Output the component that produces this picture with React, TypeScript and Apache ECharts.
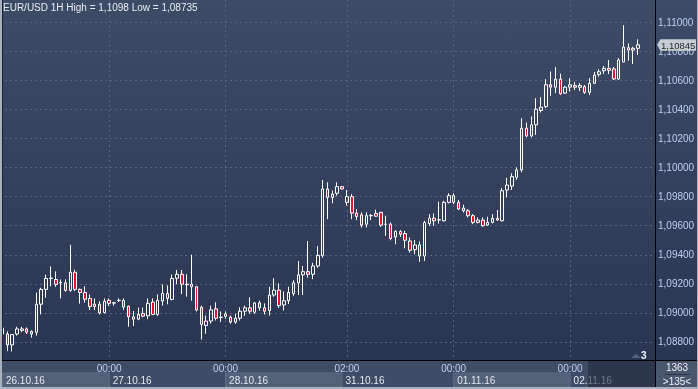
import React, { useEffect, useRef } from 'react';
import * as echarts from 'echarts';

// Trading sessions shown (date, first hour, last hour)
const days = [
  { date: '26.10.16', first: 2, last: 23 },
  { date: '27.10.16', first: 0, last: 23 },
  { date: '28.10.16', first: 0, last: 23 },
  { date: '31.10.16', first: 1, last: 23 },
  { date: '01.11.16', first: 0, last: 23 },
  { date: '02.11.16', first: 0, last: 14 },
];
const gridTimes = ['27.10.16 00:00', '28.10.16 00:00', '31.10.16 02:00', '01.11.16 00:00', '02.11.16 00:00'];
const emptySlots = ['+1', '+2', '+3'];
const yTickValues = [1.088, 1.09, 1.092, 1.094, 1.096, 1.098, 1.1, 1.102, 1.104, 1.106, 1.108, 1.11];

const opens = [
  1.08896, 1.08855, 1.0878, 1.08855, 1.0888, 1.0889, 1.08873, 1.08867, 1.0906, 1.09162,
  1.09237, 1.0923, 1.09207, 1.09207, 1.09155, 1.0928, 1.09162, 1.0914, 1.091, 1.0906,
  1.0906, 1.09003, 1.09087, 1.0907, 1.09085, 1.09087, 1.09046, 1.08973, 1.08957, 1.08996,
  1.0898, 1.09075, 1.0899, 1.09082, 1.09134, 1.09093, 1.09239, 1.09266, 1.09198, 1.09198,
  1.0918, 1.09039, 1.08914, 1.08944, 1.09028, 1.08971, 1.08994, 1.08971, 1.08937, 1.08964,
  1.09012, 1.09035, 1.09005, 1.09069, 1.09035, 1.09016, 1.09123, 1.09157, 1.09055, 1.09084,
  1.09134, 1.09207, 1.09262, 1.09284, 1.09266, 1.09323, 1.09396, 1.09853, 1.09795, 1.09823,
  1.09869, 1.09761, 1.098, 1.09687, 1.09675, 1.09611, 1.09669, 1.09685, 1.09692, 1.09611,
  1.09611, 1.09523, 1.0956, 1.09546, 1.09495, 1.09436, 1.09468, 1.09392, 1.09615, 1.09652,
  1.0964, 1.09634, 1.09761, 1.09807, 1.09761, 1.09722, 1.09703, 1.09669, 1.09623, 1.09639,
  1.09605, 1.09623, 1.0965, 1.09634, 1.09846, 1.09873, 1.09933, 1.09984, 1.10271, 1.10218,
  1.10294, 1.10393, 1.1042, 1.1057, 1.10554, 1.10609, 1.10513, 1.10554, 1.10564, 1.10553,
  1.10557, 1.10518, 1.1058, 1.10642, 1.10667, 1.10683, 1.10679, 1.1061, 1.10727, 1.10825,
  1.10809, 1.10821,
];
const highs = [
  1.0891, 1.08873, 1.08855, 1.08905, 1.08905, 1.089, 1.0888, 1.0914, 1.09173, 1.09264,
  1.0932, 1.09286, 1.0923, 1.0923, 1.09468, 1.09298, 1.09168, 1.09184, 1.09128, 1.091,
  1.0908, 1.091, 1.091, 1.09075, 1.091, 1.091, 1.0905, 1.09014, 1.09037, 1.09037,
  1.091, 1.091, 1.09128, 1.09196, 1.0919, 1.09264, 1.09296, 1.09296, 1.09266, 1.094,
  1.09185, 1.0905, 1.08982, 1.0905, 1.09073, 1.0901, 1.0901, 1.08982, 1.08994, 1.09039,
  1.0905, 1.09107, 1.09073, 1.09084, 1.09066, 1.0918, 1.09239, 1.09203, 1.09148, 1.0918,
  1.09225, 1.09357, 1.09323, 1.09495, 1.09345, 1.09461, 1.09915, 1.09899, 1.09842, 1.09899,
  1.09872, 1.09846, 1.09818, 1.09715, 1.09692, 1.09692, 1.0968, 1.0971, 1.09696, 1.09669,
  1.09622, 1.09569, 1.09569, 1.09565, 1.09519, 1.09502, 1.09491, 1.09634, 1.0968, 1.09685,
  1.09765, 1.09772, 1.09823, 1.09823, 1.09777, 1.09745, 1.09715, 1.0968, 1.09657, 1.09657,
  1.09662, 1.0968, 1.09708, 1.0986, 1.0993, 1.09961, 1.10002, 1.1034, 1.1031, 1.10352,
  1.10478, 1.10485, 1.10609, 1.10662, 1.10692, 1.10646, 1.10563, 1.10616, 1.10589, 1.10582,
  1.10569, 1.10617, 1.10658, 1.10677, 1.10699, 1.10741, 1.10692, 1.10754, 1.1098, 1.10855,
  1.10832, 1.10883,
];
const lows = [
  1.0884, 1.08737, 1.08735, 1.08844, 1.08867, 1.08855, 1.0883, 1.08844, 1.0899, 1.09105,
  1.09184, 1.0918, 1.091, 1.09146, 1.09146, 1.0915, 1.09064, 1.09071, 1.0902, 1.0902,
  1.0899, 1.08996, 1.09048, 1.0905, 1.09075, 1.0902, 1.08905, 1.0891, 1.0895, 1.0897,
  1.08957, 1.08985, 1.0898, 1.0905, 1.0906, 1.09087, 1.09198, 1.0913, 1.09112, 1.09084,
  1.0901, 1.08817, 1.08857, 1.08926, 1.08948, 1.08937, 1.0896, 1.08926, 1.08926, 1.08948,
  1.0898, 1.08994, 1.08994, 1.09016, 1.08989, 1.08982, 1.09112, 1.09035, 1.09016, 1.09062,
  1.09118, 1.09123, 1.09123, 1.09243, 1.09232, 1.0931, 1.0938, 1.09645, 1.09754, 1.09807,
  1.0985, 1.09738, 1.09645, 1.09639, 1.09588, 1.09588, 1.09639, 1.09662, 1.09592, 1.0953,
  1.095, 1.09472, 1.09523, 1.09445, 1.09415, 1.09403, 1.09352, 1.09357, 1.09599, 1.09599,
  1.09615, 1.0963, 1.09754, 1.09749, 1.09708, 1.09692, 1.09657, 1.09611, 1.09616, 1.09593,
  1.096, 1.09616, 1.09634, 1.0963, 1.09795, 1.09846, 1.09915, 1.09968, 1.10209, 1.10209,
  1.10225, 1.10379, 1.10409, 1.10494, 1.10513, 1.10501, 1.10508, 1.10524, 1.10534, 1.10527,
  1.10507, 1.105, 1.10575, 1.10626, 1.10644, 1.10644, 1.10603, 1.10603, 1.10725, 1.10736,
  1.10713, 1.10775,
];
const closes = [
  1.08855, 1.0878, 1.08851, 1.0889, 1.0889, 1.08867, 1.08855, 1.0906, 1.09162, 1.09237,
  1.0924, 1.09196, 1.0921, 1.09155, 1.0928, 1.09162, 1.0914, 1.09094, 1.09044, 1.09044,
  1.09, 1.0908, 1.09066, 1.09068, 1.09087, 1.0904, 1.08973, 1.08957, 1.0899, 1.08978,
  1.09066, 1.0899, 1.09087, 1.09134, 1.091, 1.09237, 1.09266, 1.09198, 1.09194, 1.0918,
  1.09021, 1.08921, 1.08944, 1.09021, 1.08964, 1.08969, 1.08976, 1.08937, 1.08964, 1.09012,
  1.09035, 1.09012, 1.09069, 1.09035, 1.09012, 1.09123, 1.09157, 1.0905, 1.09084, 1.09141,
  1.09207, 1.09262, 1.09284, 1.09266, 1.09323, 1.09396, 1.09853, 1.09795, 1.09818, 1.09869,
  1.09853, 1.098, 1.09687, 1.09664, 1.09604, 1.09669, 1.09671, 1.09666, 1.09604, 1.09609,
  1.09512, 1.0956, 1.09542, 1.095, 1.09431, 1.09468, 1.09392, 1.09622, 1.09652, 1.09634,
  1.09641, 1.09761, 1.09807, 1.09761, 1.09715, 1.09703, 1.09669, 1.09623, 1.09639, 1.096,
  1.09623, 1.0965, 1.09639, 1.09841, 1.0988, 1.09938, 1.09984, 1.10271, 1.10218, 1.10294,
  1.10402, 1.10416, 1.1057, 1.10554, 1.10609, 1.10508, 1.10554, 1.1057, 1.10553, 1.10565,
  1.10518, 1.1058, 1.10637, 1.1066, 1.10683, 1.1067, 1.1061, 1.10741, 1.1083, 1.10809,
  1.10821, 1.10845,
];

const FONT = "'Liberation Sans', Arial, sans-serif";
const pad2 = (h: number) => String(h).padStart(2, '0');
const fmt = (v: number) => v.toFixed(5).replace('.', ',');

export default function App() {
  const ref = useRef<HTMLDivElement>(null);
  useEffect(() => {
    if (!ref.current) return;
    const chart = echarts.init(ref.current, undefined, { renderer: 'svg' });

    const categories: string[] = [];
    days.forEach((d) => {
      for (let h = d.first; h <= d.last; h++) categories.push(`${d.date} ${pad2(h)}:00`);
    });
    const xCats = [...categories, ...emptySlots];
    const candles = opens.map((o, i) => [o, closes[i], lows[i], highs[i]]);
    const lastClose = closes[closes.length - 1];
    const isGrid = (_i: number, v: string) => gridTimes.includes(v);

    const dayAreas = days.map((d, i) => {
      const start = `${d.date} ${pad2(d.first)}:00`;
      const end = i < days.length - 1 ? `${days[i + 1].date} ${pad2(days[i + 1].first)}:00` : xCats[xCats.length - 1];
      const light = i % 2 === 0;
      return [
        {
          name: d.date,
          xAxis: start,
          yAxis: 0.07,
          itemStyle: {
            color: light ? '#526078' : 'rgba(0,0,0,0)',
            borderColor: light ? '#5f6c84' : 'rgba(0,0,0,0)',
            borderWidth: 1,
          },
        },
        { xAxis: end, yAxis: 0.57 },
      ];
    });

    const yMin = 1.086761;
    const yMax = 1.111535;

    chart.setOption({
      animation: false,
      backgroundColor: 'transparent',
      title: {
        text: 'EUR/USD 1H High = 1,1098 Low = 1,08735',
        left: 3,
        top: 2,
        padding: 0,
        textStyle: { color: '#e8edf5', fontSize: 10, fontWeight: 'normal', fontFamily: FONT },
      },
      grid: [
        { left: 0, right: 43, top: 0, height: 360 },
        { left: 0, right: 43, top: 361, height: 28 },
      ],
      xAxis: [
        {
          type: 'category',
          gridIndex: 0,
          data: xCats,
          boundaryGap: true,
          axisLine: { show: false },
          axisTick: { show: false },
          axisLabel: {
            interval: isGrid,
            formatter: (v: string) => v.split(' ')[1],
            color: '#bcd0ee',
            fontSize: 10,
            fontFamily: FONT,
            margin: 3,
          },
          splitLine: {
            show: true,
            interval: isGrid,
            alignWithLabel: true,
            lineStyle: { color: '#56647f', type: [2, 3], width: 1 },
          },
        },
        {
          type: 'category',
          gridIndex: 1,
          data: xCats,
          boundaryGap: true,
          show: false,
        },
      ],
      yAxis: [
        {
          type: 'value',
          gridIndex: 0,
          position: 'right',
          min: yMin,
          max: yMax,
          splitNumber: 12,
          scale: true,
          axisLine: { show: false },
          axisTick: { show: false },
          axisLabel: {
            showMinLabel: false,
            showMaxLabel: false,
            margin: 3,
            color: '#bcd0ee',
            fontSize: 10,
            fontFamily: FONT,
            formatter: (v: number) => (yTickValues.some((t) => Math.abs(t - v) < 1e-7) ? fmt(v) : ''),
          },
          splitLine: {
            show: true,
            showMinLine: false,
            showMaxLine: false,
            lineStyle: { color: '#56647f', type: [2, 3], width: 1 },
          },
        },
        { type: 'value', gridIndex: 1, min: 0, max: 1, show: false },
      ],
      series: [
        {
          type: 'candlestick',
          xAxisIndex: 0,
          yAxisIndex: 0,
          data: candles,
          barWidth: 3,
          itemStyle: {
            color: 'rgba(0,0,0,0)',
            color0: '#e8112d',
            borderColor: '#ffffff',
            borderColor0: '#ffffff',
            borderColorDoji: '#ffffff',
            borderWidth: 1,
          },
        },
        {
          type: 'line',
          xAxisIndex: 1,
          yAxisIndex: 1,
          data: [],
          silent: true,
          markArea: {
            silent: true,
            label: {
              show: true,
              position: 'insideLeft',
              distance: 4,
              color: '#e3e8f1',
              fontSize: 10,
              fontFamily: FONT,
            },
            data: dayAreas,
          },
        },
      ],
    });

    const py = chart.convertToPixel({ yAxisIndex: 0 }, lastClose) as number;

    chart.setOption({
      graphic: [
        {
          type: 'rect',
          z: -20,
          silent: true,
          shape: { x: 0, y: 0, width: 698, height: 389 },
          style: {
            fill: new echarts.graphic.LinearGradient(0, 0, 0, 1, [
              { offset: 0, color: '#3e4b67' },
              { offset: 1, color: '#283350' },
            ]),
          },
        },
        { type: 'rect', z: -19, silent: true, shape: { x: 0, y: 361, width: 655, height: 28 }, style: { fill: '#404c65' } },
        { type: 'rect', z: -19, silent: true, shape: { x: 656, y: 361, width: 42, height: 28 }, style: { fill: '#4a566e' } },
        { type: 'rect', z: 30, silent: true, shape: { x: 588, y: 361, width: 67, height: 27 }, style: { fill: 'rgba(32,40,60,0.6)' } },
        { type: 'line', z: 40, silent: true, shape: { x1: 0, y1: 360.5, x2: 698, y2: 360.5 }, style: { stroke: '#000000', lineWidth: 1 } },
        { type: 'line', z: 40, silent: true, shape: { x1: 655.5, y1: 0, x2: 655.5, y2: 389 }, style: { stroke: '#000000', lineWidth: 1 } },
        { type: 'line', z: 40, silent: true, shape: { x1: 2.5, y1: 0, x2: 2.5, y2: 360 }, style: { stroke: '#1b2234', lineWidth: 1 } },
        { type: 'rect', z: 50, silent: true, shape: { x: 0, y: 0, width: 2, height: 389 }, style: { fill: '#a9b1be' } },
        { type: 'rect', z: 50, silent: true, shape: { x: 0, y: 387, width: 698, height: 2 }, style: { fill: '#a9b1be' } },
        { type: 'rect', z: 50, silent: true, shape: { x: 697, y: 0, width: 1, height: 389 }, style: { fill: '#a9b1be' } },
        { type: 'polygon', z: 40, silent: true, shape: { points: [[631, 358], [636, 354], [641, 358]] }, style: { fill: '#56627a' } },
        { type: 'text', z: 40, silent: true, x: 641, y: 355, style: { text: '3', fill: '#f0f4fa', font: `bold 10px ${FONT}`, verticalAlign: 'middle' } },
        { type: 'text', z: 40, silent: true, x: 677, y: 367, style: { text: '1363', fill: '#eef2f8', font: `10px ${FONT}`, align: 'center', verticalAlign: 'middle' } },
        { type: 'line', z: 40, silent: true, shape: { x1: 665, y1: 374.5, x2: 690, y2: 374.5 }, style: { stroke: '#2e374b', lineWidth: 1 } },
        { type: 'text', z: 40, silent: true, x: 677, y: 381, style: { text: '>135<', fill: '#eef2f8', font: `10px ${FONT}`, align: 'center', verticalAlign: 'middle' } },
        {
          type: 'polygon',
          z: 45,
          silent: true,
          shape: { points: [[657, py], [660.5, py - 5.5], [696, py - 5.5], [696, py + 6], [660.5, py + 6]] },
          style: { fill: '#c8ccd3' },
        },
        { type: 'text', z: 46, silent: true, x: 661, y: py + 0.5, style: { text: fmt(lastClose), fill: '#1d2431', font: `9.5px ${FONT}`, verticalAlign: 'middle' } },
      ],
    });

    return () => chart.dispose();
  }, []);

  return <div ref={ref} style={{ position: 'fixed', left: 0, top: 0, width: 698, height: 389 }} />;
}
